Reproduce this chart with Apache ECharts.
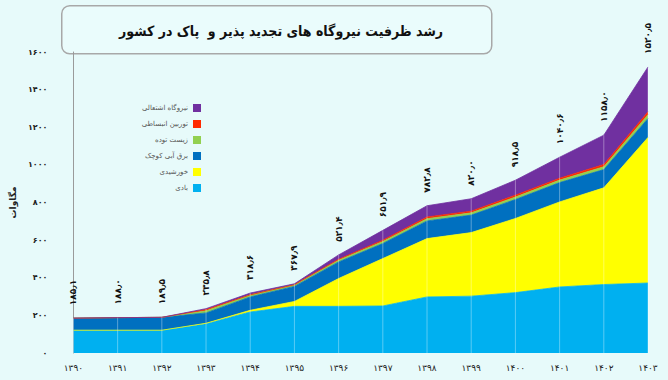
<!DOCTYPE html>
<html><head><meta charset="utf-8">
<script src="https://cdn.jsdelivr.net/npm/echarts@6/dist/echarts.min.js"></script>
<style>html,body{margin:0;padding:0;background:#E7FAFA;}#c{width:668px;height:380px;}</style>
</head><body><div id="c"></div>
<script>
const years = [1390,1391,1392,1393,1394,1395,1396,1397,1398,1399,1400,1401,1402,1403];
const wind    = [121,121,121,156,218,248,248,250,298,302,321,351,364,372];
const solar   = [0,0,0,2,9,26,148,252,310,338,394,452,514,774];
const hydro   = [64.1,67,68.5,55,71,80,88,80,94,93,101,103,97,101];
const biomass = [0,0,0,12,11,9,10,11,12,12,13,13,15,20];
const turbine = [0,0,0,6,0,0,4,7,9,9,10,10,12,15];
const thermal = [0,0,0,4.8,9.6,4.9,23.4,51.9,59.8,66,79.5,111.6,156,238.5];
const yTicks = [0,200,400,600,800,1000,1200,1400,1600];

const names = {
  wind:'بادی', solar:'خورشیدی', hydro:'برق آبی کوچک',
  biomass:'زیست توده', turbine:'توربین انبساطی', thermal:'نیروگاه اشتعالی'
};
const colors = {wind:'#00B0F0', solar:'#FFFF00', hydro:'#0070C0', biomass:'#92D050', turbine:'#FF2A00', thermal:'#7030A0'};
const fa = s => String(s).replace(/[0-9]/g, d => '۰۱۲۳۴۵۶۷۸۹'[d]).replace('.', '٫');
const totals = years.map((_, i) => wind[i]+solar[i]+hydro[i]+biomass[i]+turbine[i]+thermal[i]);
const FONT = 'DejaVu Sans';
const TFONT = 'DejaVu Sans Condensed, DejaVu Sans';

function area(key, data, extra) {
  return Object.assign({
    name: names[key], type: 'line', stack: 'total', data: data,
    showSymbol: false, symbol: 'none',
    lineStyle: {width: 0.8, color: colors[key]},
    itemStyle: {color: colors[key]},
    areaStyle: {color: colors[key], opacity: 1}
  }, extra || {});
}

const chart = echarts.init(document.getElementById('c'), null, {renderer: 'svg'});
chart.setOption({
  backgroundColor: '#E7FAFA',
  animation: false,
  textStyle: {fontFamily: FONT},
  graphic: [{
    type: 'rect', left: 61, top: 5, z: 0,
    shape: {width: 430, height: 48, r: 8},
    style: {fill: '#EAFCFC', stroke: '#A8A8A8', lineWidth: 1.5}
  }],
  title: {
    text: 'رشد ظرفیت نیروگاه های تجدید پذیر و  پاک در کشور',
    left: 276, top: 19, textAlign: 'center',
    textStyle: {fontFamily: TFONT, fontSize: 14, fontWeight: 'bold', color: '#111'}
  },
  legend: {
    orient: 'vertical', right: 462, top: 99, align: 'right',
    itemWidth: 8, itemHeight: 8, itemGap: 8,
    data: [names.thermal, names.turbine, names.biomass, names.hydro, names.solar, names.wind],
    textStyle: {fontFamily: FONT, fontSize: 7, color: '#555'},
    icon: 'rect'
  },
  grid: {left: 64, right: 20, top: 52, bottom: 27},
  xAxis: {
    type: 'category', boundaryGap: false, data: years,
    axisLine: {show: false}, axisTick: {show: false},
    axisLabel: {formatter: v => fa(v), fontSize: 9, color: '#222', margin: 10, fontFamily: FONT}
  },
  yAxis: {
    type: 'value', min: 0, max: yTicks[yTicks.length-1], interval: 200,
    name: 'مگاوات', nameLocation: 'middle', nameRotate: 90, nameGap: 44,
    nameTextStyle: {fontFamily: FONT, fontSize: 9, fontWeight: 'bold', color: '#222'},
    axisLine: {show: true, lineStyle: {color: '#9a9a9a', width: 1}},
    axisTick: {show: false}, splitLine: {show: false},
    axisLabel: {formatter: v => fa(v), fontSize: 8, fontWeight: 'bold', color: '#222', margin: 26, fontFamily: FONT}
  },
  series: [
    area('wind', wind),
    area('solar', solar),
    area('hydro', hydro),
    area('biomass', biomass),
    area('turbine', turbine),
    area('thermal', thermal, {
      showSymbol: true, symbol: 'circle', symbolSize: 0.1,
      label: {
        show: true, position: 'top', rotate: 90, distance: 13,
        align: 'left', verticalAlign: 'middle',
        fontFamily: FONT, fontSize: 9, fontWeight: 'bold', color: '#111',
        formatter: p => fa(totals[p.dataIndex].toFixed(1))
      }
    }),
    {
      type: 'bar', data: totals, barWidth: 1, barGap: '-100%', z: 5,
      itemStyle: {color: 'rgba(255,255,255,0.35)'}, silent: true, label: {show: false}
    }
  ]
});
</script></body></html>
